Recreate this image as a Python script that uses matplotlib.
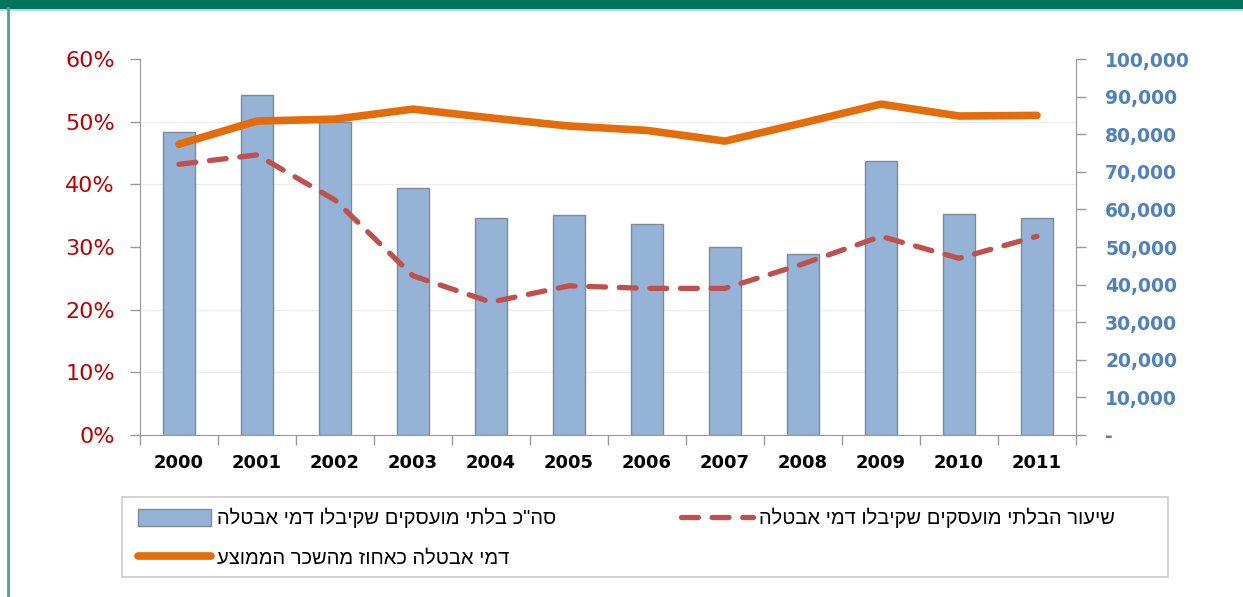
import matplotlib.pyplot as plt
import matplotlib.ticker as mticker
from matplotlib.patches import Rectangle
from matplotlib.lines import Line2D

years = ['2000', '2001', '2002', '2003', '2004', '2005',
         '2006', '2007', '2008', '2009', '2010', '2011']
# total unemployed receiving benefits (right axis)
recipients = [80600, 90400, 83200, 65700, 57700, 58500,
              56100, 50000, 48200, 72900, 58800, 57700]
# rate of unemployed receiving benefits (%)
recipient_rate = [43.2, 44.7, 37.5, 25.4, 21.2, 23.8,
                  23.4, 23.4, 27.3, 31.7, 28.2, 31.7]
# benefit as percent of average wage (%)
benefit_pct = [46.4, 50.1, 50.4, 52.0, 50.6, 49.3,
               48.6, 46.9, 49.8, 52.8, 50.9, 51.0]

pct_ticks = [0, 10, 20, 30, 40, 50, 60]
count_ticks = [0, 10000, 20000, 30000, 40000, 50000,
               60000, 70000, 80000, 90000, 100000]

lbl_bars = 'סה"כ בלתי מועסקים שקיבלו דמי אבטלה'
lbl_rate = 'שיעור הבלתי מועסקים שקיבלו דמי אבטלה'
lbl_pct = 'דמי אבטלה כאחוז מהשכר הממוצע'


def rtl(s):
    # matplotlib has no bidi support, so flip hebrew strings by hand
    return s[::-1]


plt.rcParams['font.family'] = ['DejaVu Sans']

W, H = 1243, 597
fig = plt.figure(figsize=(W / 100, H / 100), dpi=100)

# green header band and side border
fig.patches.append(Rectangle((0, 1 - 8 / H), 1, 8 / H, transform=fig.transFigure,
                             color='#00755E', zorder=0))
fig.add_artist(Line2D([0, 1], [1 - 9.5 / H] * 2, transform=fig.transFigure,
                      color='#A8DCCF', lw=1.2))
fig.add_artist(Line2D([8 / W, 8 / W], [0, 1 - 8 / H], transform=fig.transFigure,
                      color='#4AA58F', lw=2))
# legend box
fig.patches.append(Rectangle((122 / W, 1 - 577 / H), 1046 / W, 80 / H,
                             transform=fig.transFigure, facecolor='none',
                             edgecolor='#CCCCCC', lw=1.2))

ax1 = fig.add_axes([140 / W, 1 - 435 / H, 936 / W, 376 / H])
ax2 = ax1.twinx()
ax1.set_zorder(ax2.get_zorder() + 1)
ax1.patch.set_visible(False)

x = list(range(len(years)))

bars = ax2.bar(x, recipients, width=0.4, color='#95B3D7', edgecolor='#7F8A98',
               linewidth=1, label=rtl(lbl_bars), zorder=3)
line_pct, = ax1.plot(x, benefit_pct, color='#E46C0A', lw=5.5,
                     solid_capstyle='round', solid_joinstyle='round', label=rtl(lbl_pct))
line_rate, = ax1.plot(x, recipient_rate, color='#C0504D', lw=3.8,
                      dashes=(3.2, 2.6), dash_capstyle='round', label=rtl(lbl_rate))

ax1.set_xlim(-0.5, len(years) - 0.5)
ax1.set_ylim(0, 60)
ax2.set_ylim(0, 100000)

ax1.set_yticks(pct_ticks)
ax1.yaxis.set_major_formatter(mticker.FuncFormatter(lambda v, p: f'{int(v)}%'))
ax1.tick_params(axis='y', colors='#999999', labelcolor='#C00000', labelsize=16,
                length=7, width=1, direction='out', pad=11)

ax2.set_yticks(count_ticks)
ax2.yaxis.set_major_formatter(mticker.FuncFormatter(
    lambda v, p: '-' if v == 0 else f'{int(v):,}'))
ax2.tick_params(axis='y', colors='#999999', labelcolor='#4F81BD', labelsize=13.5,
                length=7, width=1, direction='out', pad=14)
for t in ax2.get_yticklabels():
    t.set_fontweight('bold')

# faint gridlines for the percent scale, kept behind the bars
ax2.set_yticks([ax2.get_ylim()[1] * v / 60 for v in pct_ticks], minor=True)
ax2.tick_params(axis='y', which='minor', length=0)
ax2.grid(axis='y', which='minor', color='#EDEDED', lw=1, zorder=0)
ax2.set_axisbelow(True)

# category ticks sit between the bars
ax1.set_xticks([i - 0.5 for i in range(len(years) + 1)], minor=False)
ax1.set_xticklabels([''] * (len(years) + 1))
ax1.set_xticks(x, minor=True)
ax1.set_xticklabels(years, minor=True, fontsize=13, fontweight='bold')
ax1.tick_params(axis='x', which='major', colors='#999999', length=7, width=1)
ax1.tick_params(axis='x', which='minor', length=0, pad=14)
ax2.tick_params(axis='x', length=0)

for a in (ax1, ax2):
    a.spines['top'].set_visible(False)
    for s in ('left', 'right', 'bottom'):
        a.spines[s].set_color('#999999')
ax1.spines['right'].set_visible(False)
ax2.spines['left'].set_visible(False)
ax2.spines['bottom'].set_visible(False)

leg = fig.legend(handles=[bars, line_pct, line_rate], ncol=2,
                 loc='upper left', bbox_to_anchor=(127 / W, 1 - 497 / H),
                 borderaxespad=0, frameon=False,
                 prop={'family': ['Liberation Sans Narrow', 'Liberation Sans', 'DejaVu Sans'],
                       'size': 14.5},
                 handlelength=3.6, handleheight=0.9, labelspacing=1.0, borderpad=0.55,
                 handletextpad=0.3, columnspacing=6.2)

fig.savefig('out.png', dpi=100)
